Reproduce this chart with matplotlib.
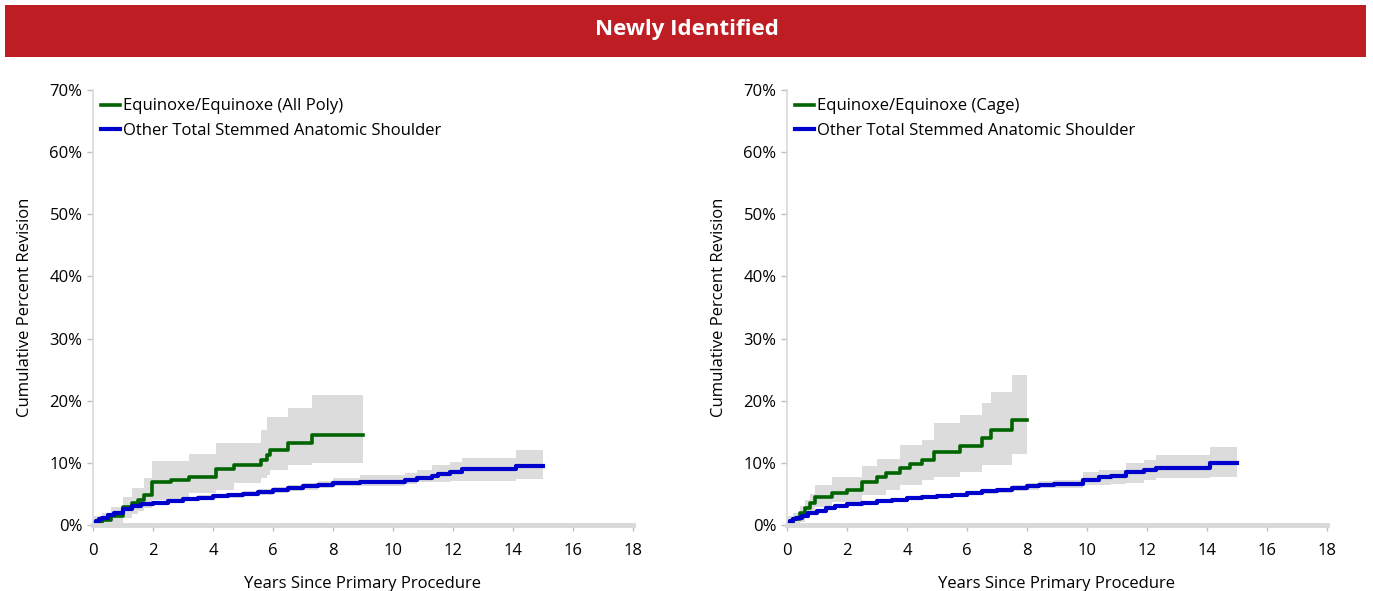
import matplotlib
matplotlib.use("Agg")
from matplotlib import pyplot as plt
from matplotlib.patches import Rectangle

plt.rcParams['font.family'] = ['Open Sans', 'DejaVu Sans']

# 左图：Equinoxe/Equinoxe (All Poly)
poly_t = [0, 0.3, 0.6, 1.0, 1.3, 1.5, 1.7, 1.97, 2.6, 3.2, 4.1, 4.7, 5.6, 5.8, 5.9, 6.5, 7.3, 9.0]
poly_v = [0.3, 0.8, 1.5, 2.9, 3.6, 4.0, 4.8, 6.9, 7.2, 7.7, 9.0, 9.7, 10.5, 11.3, 12.1, 13.2, 14.5, 14.5]
poly_hi = [1.5, 2.0, 2.9, 4.5, 6.0, 6.0, 7.5, 10.3, 10.3, 11.5, 13.2, 13.2, 15.3, 17.4, 17.4, 18.8, 20.9, 20.9]
poly_lo = [0.0, 0.1, 0.3, 1.2, 1.8, 2.2, 2.8, 4.0, 4.0, 5.1, 5.6, 6.7, 7.5, 8.0, 8.8, 9.6, 9.9, 9.9]

# 左图：Other Total Stemmed Anatomic Shoulder
oth1_t = [0, 0.1, 0.2, 0.3, 0.5, 0.7, 1.0, 1.3, 1.6, 2.0, 2.5, 3.0, 3.5, 4.0, 4.5, 5.0,
          5.5, 6.0, 6.5, 7.0, 7.5, 8.0, 8.9, 10.4, 10.8, 11.3, 11.5, 11.9, 12.3, 14.1, 15.0]
oth1_v = [0.3, 0.6, 0.9, 1.2, 1.6, 2.0, 2.6, 3.0, 3.3, 3.6, 3.9, 4.2, 4.4, 4.6, 4.8, 5.0,
          5.3, 5.6, 5.9, 6.2, 6.5, 6.7, 6.95, 7.2, 7.6, 7.9, 8.2, 8.5, 9.0, 9.5, 9.5]
oth1_hi = [0.5, 0.8, 1.1, 1.4, 1.8, 2.3, 2.9, 3.3, 3.6, 3.9, 4.2, 4.5, 4.8, 5.0, 5.2, 5.5,
           5.8, 6.1, 6.4, 6.8, 7.1, 7.5, 8.0, 8.4, 8.8, 9.6, 9.6, 10.1, 10.8, 12.1, 12.1]
oth1_lo = [0.1, 0.4, 0.7, 1.0, 1.4, 1.8, 2.3, 2.7, 3.0, 3.3, 3.6, 3.9, 4.1, 4.3, 4.4, 4.6,
           4.9, 5.2, 5.4, 5.7, 6.0, 6.2, 6.3, 6.6, 6.9, 7.0, 7.0, 7.1, 7.1, 7.4, 7.4]

# 右图：Equinoxe/Equinoxe (Cage)
cage_t = [0, 0.2, 0.43, 0.6, 0.77, 0.93, 1.5, 2.0, 2.5, 3.0, 3.3, 3.77, 4.1, 4.5, 4.9, 5.77, 6.5, 6.8, 7.5, 8.0]
cage_v = [0.3, 1.0, 1.9, 2.8, 3.5, 4.5, 5.2, 5.7, 7.0, 7.7, 8.3, 9.1, 9.8, 10.4, 11.8, 12.7, 14.0, 15.3, 16.9, 16.9]
cage_hi = [1.5, 2.0, 3.0, 4.0, 5.0, 6.4, 7.7, 7.7, 9.5, 10.7, 10.7, 12.9, 12.9, 13.7, 16.4, 17.7, 19.6, 21.4, 24.1, 24.1]
cage_lo = [0.0, 0.1, 0.5, 1.2, 1.8, 2.9, 3.7, 3.7, 4.8, 4.8, 5.6, 6.4, 6.4, 7.2, 7.7, 8.5, 9.6, 9.6, 11.5, 11.5]

# 右图：Other Total Stemmed Anatomic Shoulder
oth2_t = [0, 0.1, 0.2, 0.3, 0.5, 0.7, 1.0, 1.3, 1.6, 2.0, 2.5, 3.0, 3.5, 4.0, 4.5, 5.0, 5.5,
          6.0, 6.5, 7.0, 7.5, 8.0, 8.4, 8.9, 9.87, 10.4, 10.8, 11.3, 11.9, 12.3, 14.1, 15.0]
oth2_v = [0.3, 0.6, 0.9, 1.1, 1.5, 1.9, 2.3, 2.7, 3.0, 3.3, 3.6, 3.9, 4.1, 4.3, 4.5, 4.7, 4.9,
          5.2, 5.4, 5.6, 5.9, 6.2, 6.5, 6.6, 7.3, 7.8, 7.9, 8.5, 8.9, 9.2, 9.9, 9.9]
oth2_hi = [0.5, 0.8, 1.1, 1.3, 1.7, 2.1, 2.6, 3.0, 3.3, 3.6, 3.9, 4.2, 4.4, 4.6, 4.8, 5.0, 5.2,
           5.5, 5.8, 6.0, 6.4, 6.7, 7.1, 7.3, 8.5, 8.9, 8.9, 9.9, 10.5, 11.2, 12.6, 12.6]
oth2_lo = [0.1, 0.4, 0.7, 0.9, 1.3, 1.7, 2.0, 2.4, 2.7, 3.0, 3.3, 3.6, 3.8, 4.0, 4.2, 4.4, 4.6,
           4.9, 5.0, 5.2, 5.5, 5.7, 5.9, 6.0, 6.5, 6.5, 6.6, 6.8, 7.2, 7.5, 7.8, 7.8]

x_ticks = [0, 2, 4, 6, 8, 10, 12, 14, 16, 18]
y_ticks = [0, 10, 20, 30, 40, 50, 60, 70]

GREEN = '#006400'
BLUE = '#0000CC'
BAND = '#DCDCDC'

fig = plt.figure(figsize=(13.73, 5.91), dpi=100)

# 顶部红色横幅
fig.patches.append(Rectangle((5/1373, 1 - 57/591), 1361/1373, 52/591,
                             transform=fig.transFigure, facecolor='#BE1E23',
                             edgecolor='none'))
fig.text(0.5, 1 - 30/591, 'Newly Identified', color='white', fontsize=16,
         fontweight='bold', ha='center', va='center')


def draw_panel(ax, t1, v1, hi1, lo1, lab1, t2, v2, hi2, lo2):
    ax.fill_between(t2, hi2, lo2, step='post', color=BAND, lw=0)
    ax.fill_between(t1, hi1, lo1, step='post', color=BAND, lw=0)
    ax.plot(t1, v1, drawstyle='steps-post', color=GREEN, lw=2.6, label=lab1)
    ax.plot(t2, v2, drawstyle='steps-post', color=BLUE, lw=3.0,
            label='Other Total Stemmed Anatomic Shoulder')
    ax.set_xlim(0, 18)
    ax.set_ylim(0, 70)
    ax.set_xticks(x_ticks)
    ax.set_yticks(y_ticks)
    ax.set_yticklabels(['%d%%' % y for y in y_ticks])
    for s in ['top', 'right']:
        ax.spines[s].set_visible(False)
    ax.spines['left'].set_color('#D9D9D9')
    ax.spines['left'].set_linewidth(1.2)
    ax.spines['bottom'].set_color('#D9D9D9')
    ax.spines['bottom'].set_linewidth(3.5)
    ax.tick_params(axis='both', colors='#BFBFBF', labelcolor='black',
                   labelsize=12, length=4, width=1)
    ax.tick_params(axis='x', pad=9)
    ax.set_xlabel('Years Since Primary Procedure', fontsize=12, labelpad=12)
    ax.set_ylabel('Cumulative Percent Revision', fontsize=12, labelpad=12)
    ax.legend(loc='upper left', frameon=False, fontsize=12, handlelength=1.1,
              handletextpad=0.2, borderaxespad=0.1, labelspacing=0.5,
              bbox_to_anchor=(0.0, 1.0))


ax1 = fig.add_axes([93/1373, 66/591, 540/1373, 435/591])
draw_panel(ax1, poly_t, poly_v, poly_hi, poly_lo, 'Equinoxe/Equinoxe (All Poly)',
           oth1_t, oth1_v, oth1_hi, oth1_lo)

ax2 = fig.add_axes([787/1373, 66/591, 540/1373, 435/591])
draw_panel(ax2, cage_t, cage_v, cage_hi, cage_lo, 'Equinoxe/Equinoxe (Cage)',
           oth2_t, oth2_v, oth2_hi, oth2_lo)

fig.savefig('out.png', dpi=100)
